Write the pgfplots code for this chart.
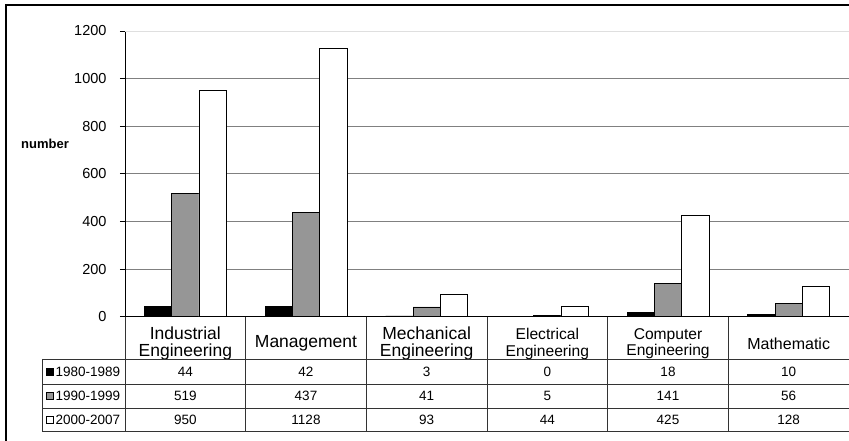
\documentclass[border=0pt]{standalone}
\usepackage{pgfplots}
\pgfplotsset{compat=1.18}
\usepackage{fontspec}
\setmainfont{Liberation Sans}
\definecolor{bargray}{HTML}{969696}
\definecolor{gridgray}{HTML}{808080}
\newcommand{\fa}{\fontsize{17.5}{17}\selectfont}
\newcommand{\fb}{\fontsize{15.6}{16}\selectfont}
\begin{document}
\begin{tikzpicture}[x=1pt,y=1pt]
\path[use as bounding box] (0,0) rectangle (849,441);
\begin{axis}[
  at={(125pt,124.3pt)}, anchor=south west,
  scale only axis, width=724pt, height=285.7pt,
  xmin=-0.5, xmax=5.5, ymin=0, ymax=1200,
  axis x line*=bottom, axis y line*=left,
  axis line style={black, line width=0.8pt},
  ybar=0pt, bar width=27.3pt,
  xtick={0,...,5},
  xticklabels={
    {\fa Industrial\\\fa Engineering},
    {\fa Management},
    {\fa Mechanical\\\fa Engineering},
    {\fb Electrical\\\fb Engineering},
    {\fb Computer\\\fb Engineering},
    {\fontsize{16}{16}\selectfont Mathematic}},
  x tick style={draw=none},
  xticklabel style={anchor=center, align=center, yshift=-22pt, font=\fontsize{16}{16.6}\selectfont},
  ytick={0,200,...,1000},
  extra y ticks={1200},
  extra y tick style={major grid style={draw=gray!25, line width=0.8pt}},
  ymajorgrids, grid style={draw=gridgray, line width=1pt},
  tick align=outside, major tick length=5pt,
  y tick style={black, line width=0.8pt},
  /pgf/number format/assume math mode=true,
  /pgf/number format/1000 sep={},
  yticklabel style={font=\fontsize{14.5}{14.5}\selectfont, xshift=-10pt},
  ylabel={number},
  every axis y label/.style={at={(axis description cs:-0.1105,0.604)}, anchor=center, font=\fontsize{13}{13}\selectfont\bfseries},
  clip=false,
]
\addplot[draw=black, line width=0.7pt, fill=black] coordinates {(0,44) (1,42) (2,3) (3,0) (4,18) (5,10)};
\addplot[draw=black, line width=0.7pt, fill=bargray] coordinates {(0,519) (1,437) (2,41) (3,5) (4,141) (5,56)};
\addplot[draw=black, line width=0.7pt, fill=white] coordinates {(0,950) (1,1128) (2,93) (3,44) (4,425) (5,128)};
\end{axis}
% data table below the chart
\begin{scope}[black!80, line width=0.9pt]
\draw (42,82) -- (849,82);
\draw (42,57) -- (849,57);
\draw (42,33) -- (849,33);
\draw (42,10) -- (849,10);
\draw (42,82) -- (42,10);
\draw (125,124.3) -- (125,10);
\foreach \k in {1,...,5} { \draw ({125+120.667*\k},124.3) -- ({125+120.667*\k},10); }
\end{scope}
\begin{scope}[font=\fontsize{13.5}{13.5}\selectfont]
\node[draw=black, line width=0.6pt, fill=black, minimum size=7pt, inner sep=0pt] at (49.5,69.5) {};
\node[draw=black, line width=0.6pt, fill=bargray, minimum size=7pt, inner sep=0pt] at (49.5,45) {};
\node[draw=black, line width=0.6pt, fill=white, minimum size=7pt, inner sep=0pt] at (49.5,21.5) {};
\node[anchor=west, inner sep=0pt] at (55.5,69.5) {1980-1989};
\node[anchor=west, inner sep=0pt] at (55.5,45) {1990-1999};
\node[anchor=west, inner sep=0pt] at (55.5,21.5) {2000-2007};
\foreach \v [count=\i from 0] in {44,42,3,0,18,10} { \node at ({185.33+120.667*\i},69.5) {\v}; }
\foreach \v [count=\i from 0] in {519,437,41,5,141,56} { \node at ({185.33+120.667*\i},45) {\v}; }
\foreach \v [count=\i from 0] in {950,1128,93,44,425,128} { \node at ({185.33+120.667*\i},21.5) {\v}; }
\end{scope}
\draw[black, line width=1.2pt] (6,0) -- (6,436) -- (849,436);
\end{tikzpicture}
\end{document}
